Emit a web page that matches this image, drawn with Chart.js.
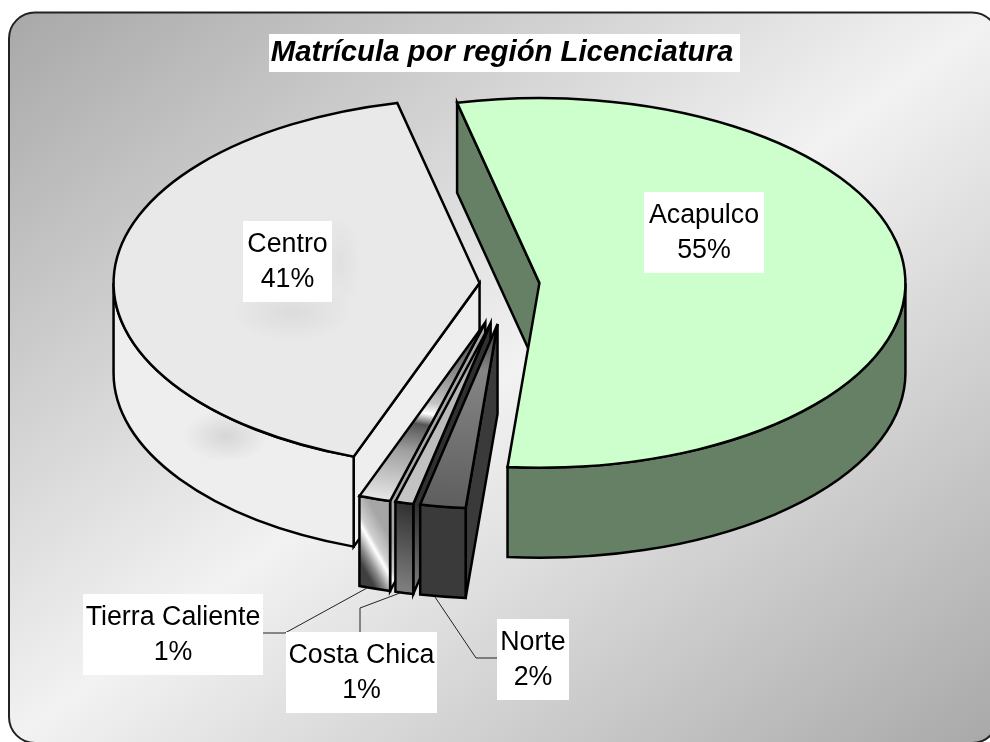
<!DOCTYPE html>
<html lang="es">
<head>
<meta charset="utf-8">
<title>Matrícula por región Licenciatura</title>
<style>html,body{margin:0;padding:0;background:#fff}canvas{display:block}</style>
<script src="https://cdn.jsdelivr.net/npm/chart.js@4/dist/chart.umd.js"></script>
</head>
<body>
<canvas id="c" width="990" height="742"></canvas>
<script>
const chartTitle = 'Matrícula por región Licenciatura';
const categories = ['Acapulco', 'Norte', 'Costa Chica', 'Tierra Caliente', 'Centro'];
const values = [55, 2, 0.8, 1.4, 40.8];

// style and layout
const explode = [30, 80, 80, 80, 30];
const topColors = ['#ccffcc', null, null, null, '#e9e9e9'];
const FONT = '"Liberation Sans", Arial, sans-serif';
const ROTATION = -13;
const RADIUS = 366, SQUASH = 0.505, DEPTH = 90, PIE_CX = 509.5, PIE_CY = 284, LW = 2.5;
const labelBoxes = [
  {x:644,y:192,w:120,h:81}, {x:497,y:619,w:72,h:81}, {x:286,y:632,w:151,h:81},
  {x:83,y:594,w:180,h:81}, {x:243,y:221,w:89,h:81}
];
const leaders = [
  null,
  [[435,597],[476,658],[497,658]],
  [[400,593],[360,608],[360,632]],
  [[367,588],[285,633],[263,633]],
  null
];
const topGradients = [
  null,
  {line:[497,324,445,507], stops:[[0,'#333'],[.25,'#858585'],[1,'#5e5e5e']]},
  {line:[490,322,405,505], stops:[[0,'#3a3a3a'],[.3,'#b4b4b4'],[1,'#c6c6c6']]},
  {line:[485,320,378,497], stops:[[0,'#333'],[.3,'#8a8a8a'],[.47,'#c4c4c4'],[.53,'#fff'],[.59,'#555'],[.74,'#a0a0a0'],[1,'#e4e4e4']]},
  null
];
const wallStyles = [
  '#668066',
  '#3a3a3a',
  {line:[396,585,415,505], stops:[[0,'#7c7c7c'],[1,'#303030']]},
  {line:[360,562,393,543], stops:[[0,'#404040'],[.22,'#8a8a8a'],[.5,'#fff'],[.62,'#d0d0d0'],[1,'#a6a6a6']]},
  '#eeeeee'
];

const sum = values.reduce((a, b) => a + b, 0);
const pct = v => Math.round(v / sum * 100) + '%';

function makeGradient(c, g, mapX, mapY) {
  const [x0, y0, x1, y1] = g.line;
  const lg = c.createLinearGradient(mapX(x0), mapY(y0), mapX(x1), mapY(y1));
  g.stops.forEach(s => lg.addColorStop(s[0], s[1]));
  return lg;
}
function midAngle(i) {
  const before = values.slice(0, i).reduce((a, b) => a + b, 0);
  return (ROTATION - 90) * Math.PI / 180 + (before + values[i] / 2) / sum * 2 * Math.PI;
}
function topFill(ctx) {
  const i = ctx.dataIndex, chart = ctx.chart, a = chart.chartArea;
  if (topColors[i]) return topColors[i];
  if (!a) return '#888';
  const ax = (a.left + a.right) / 2, ay = (a.top + a.bottom) / 2;
  const h = midAngle(i), ox = Math.cos(h) * explode[i], oy = Math.sin(h) * explode[i];
  return makeGradient(chart.ctx, topGradients[i], x => x - PIE_CX + ax - ox, y => ay + (y - PIE_CY) / SQUASH - oy);
}
function softSpot(c, x, y, rx, ry, alpha) {
  c.save();
  c.translate(x, y); c.scale(rx, ry);
  const g = c.createRadialGradient(0, 0, 0, 0, 0, 1);
  g.addColorStop(0, 'rgba(0,0,0,' + alpha + ')');
  g.addColorStop(1, 'rgba(0,0,0,0)');
  c.fillStyle = g;
  c.beginPath(); c.arc(0, 0, 1, 0, Math.PI * 2); c.fill();
  c.restore();
}

const pie3d = {
  id: 'pie3d',
  beforeDraw(chart) {
    const c = chart.ctx;
    const L = 9, T = 12.5, R = 998, B = 743, r = 26;
    const mx = (L + R) / 2, my = (T + B) / 2, w = R - L, h = B - T;
    const n = Math.hypot(w, h), ux = h / n, uy = w / n, half = (w / 2) * ux + (h / 2) * uy;
    const g = c.createLinearGradient(mx - ux * half, my - uy * half, mx + ux * half, my + uy * half);
    g.addColorStop(0, '#a8a8a8'); g.addColorStop(.5, '#f2f2f2'); g.addColorStop(1, '#a8a8a8');
    c.save();
    c.beginPath(); c.roundRect(L, T, w, h, r);
    c.fillStyle = g; c.fill();
    c.lineWidth = 2; c.strokeStyle = '#222'; c.stroke();
    c.fillStyle = '#fff';
    c.fillRect(269, 34, 471, 38);
    c.restore();
  },
  beforeDatasetDraw(chart) {
    const c = chart.ctx, arcs = chart.getDatasetMeta(0).data;
    const dx = PIE_CX - arcs[0].x, y0 = arcs[0].y;
    const SX = u => u + dx, SY = v => PIE_CY + (v - y0) * SQUASH;
    const order = [0].concat(arcs.map((_, i) => i).slice(1).reverse());
    c.save();
    c.lineWidth = LW; c.strokeStyle = '#000'; c.lineJoin = 'miter'; c.miterLimit = 5;
    // side walls, built from the library's arc angles
    order.forEach(i => {
      const arc = arcs[i], a0 = arc.startAngle, a1 = arc.endAngle, half = (a0 + a1) / 2;
      const ax = arc.x + Math.cos(half) * explode[i], ay = arc.y + Math.sin(half) * explode[i];
      const style = wallStyles[i];
      c.fillStyle = typeof style === 'string' ? style : makeGradient(c, style, x => x, y => y);
      const radial = a => {
        const rx = ax + Math.cos(a) * RADIUS, ry = ay + Math.sin(a) * RADIUS;
        c.beginPath();
        c.moveTo(SX(ax), SY(ay)); c.lineTo(SX(rx), SY(ry));
        c.lineTo(SX(rx), SY(ry) + DEPTH); c.lineTo(SX(ax), SY(ay) + DEPTH);
        c.closePath(); c.fill(); c.stroke();
      };
      if (Math.sin(a0 - Math.PI / 2) > 0) radial(a0);
      if (Math.sin(a1 + Math.PI / 2) > 0) radial(a1);
      const from = Math.max(a0, 0), to = Math.min(a1, Math.PI);
      if (to > from) {
        const ex = SX(ax), ey = SY(ay), ry = RADIUS * SQUASH;
        const wall = () => {
          c.beginPath();
          c.ellipse(ex, ey, RADIUS, ry, 0, from, to);
          c.ellipse(ex, ey + DEPTH, RADIUS, ry, 0, to, from, true);
          c.closePath();
        };
        wall(); c.fill();
        if (i === categories.length - 1) {
          c.save(); c.clip();
          softSpot(c, 226, 436, 42, 26, .1);
          c.restore();
        }
        wall(); c.stroke();
      }
    });
    c.restore();
    // pie tops: the library's own arcs, flattened into an ellipse and pulled out of the centre
    c.save();
    c.miterLimit = 5;
    c.translate(dx, PIE_CY);
    c.scale(1, SQUASH);
    c.translate(0, -y0);
    c.stroke = function () {
      const t = c.getTransform();
      c.setTransform(1, 0, 0, 1, 0, 0);
      CanvasRenderingContext2D.prototype.stroke.call(c);
      c.setTransform(t);
    };
    arcs.forEach((arc, i) => {
      const half = (arc.startAngle + arc.endAngle) / 2;
      c.save();
      c.translate(Math.cos(half) * explode[i], Math.sin(half) * explode[i]);
      arc.draw(c);
      c.restore();
    });
    delete c.stroke;
    c.restore();
    softSpot(c, 292, 312, 62, 30, .06);
    softSpot(c, 340, 262, 22, 48, .04);
    return false;
  },
  afterDraw(chart) {
    const c = chart.ctx;
    c.save();
    c.strokeStyle = '#222'; c.lineWidth = 1;
    leaders.forEach(l => {
      if (!l) return;
      c.beginPath();
      l.forEach((p, k) => k ? c.lineTo(p[0], p[1]) : c.moveTo(p[0], p[1]));
      c.stroke();
    });
    c.font = '26.8px ' + FONT;
    c.textAlign = 'center'; c.textBaseline = 'middle';
    const text = (s, x, y) => {
      c.save(); c.translate(x, y); c.scale(1, 1.06); c.fillText(s, 0, 0); c.restore();
    };
    categories.forEach((name, i) => {
      const b = labelBoxes[i];
      c.fillStyle = '#fff';
      c.fillRect(b.x, b.y, b.w, b.h);
      c.fillStyle = '#000';
      text(name, b.x + b.w / 2, b.y + 23);
      text(pct(values[i]), b.x + b.w / 2, b.y + 58);
    });
    c.restore();
  }
};

new Chart(document.getElementById('c'), {
  type: 'pie',
  data: {
    labels: categories,
    datasets: [{
      data: values,
      backgroundColor: topFill,
      borderColor: '#000',
      borderWidth: LW,
      borderJoinStyle: 'miter',
      clip: false
    }]
  },
  options: {
    responsive: false,
    animation: false,
    events: [],
    rotation: ROTATION,
    radius: RADIUS,
    layout: { padding: { left: 14 } },
    plugins: {
      legend: { display: false },
      tooltip: { enabled: false },
      title: {
        display: true,
        text: chartTitle,
        color: '#000',
        font: { family: FONT, size: 29.3, weight: 'bold', style: 'italic', lineHeight: 1.3 },
        padding: { top: 34, bottom: 0 }
      }
    }
  },
  plugins: [pie3d]
});
</script>
</body>
</html>
